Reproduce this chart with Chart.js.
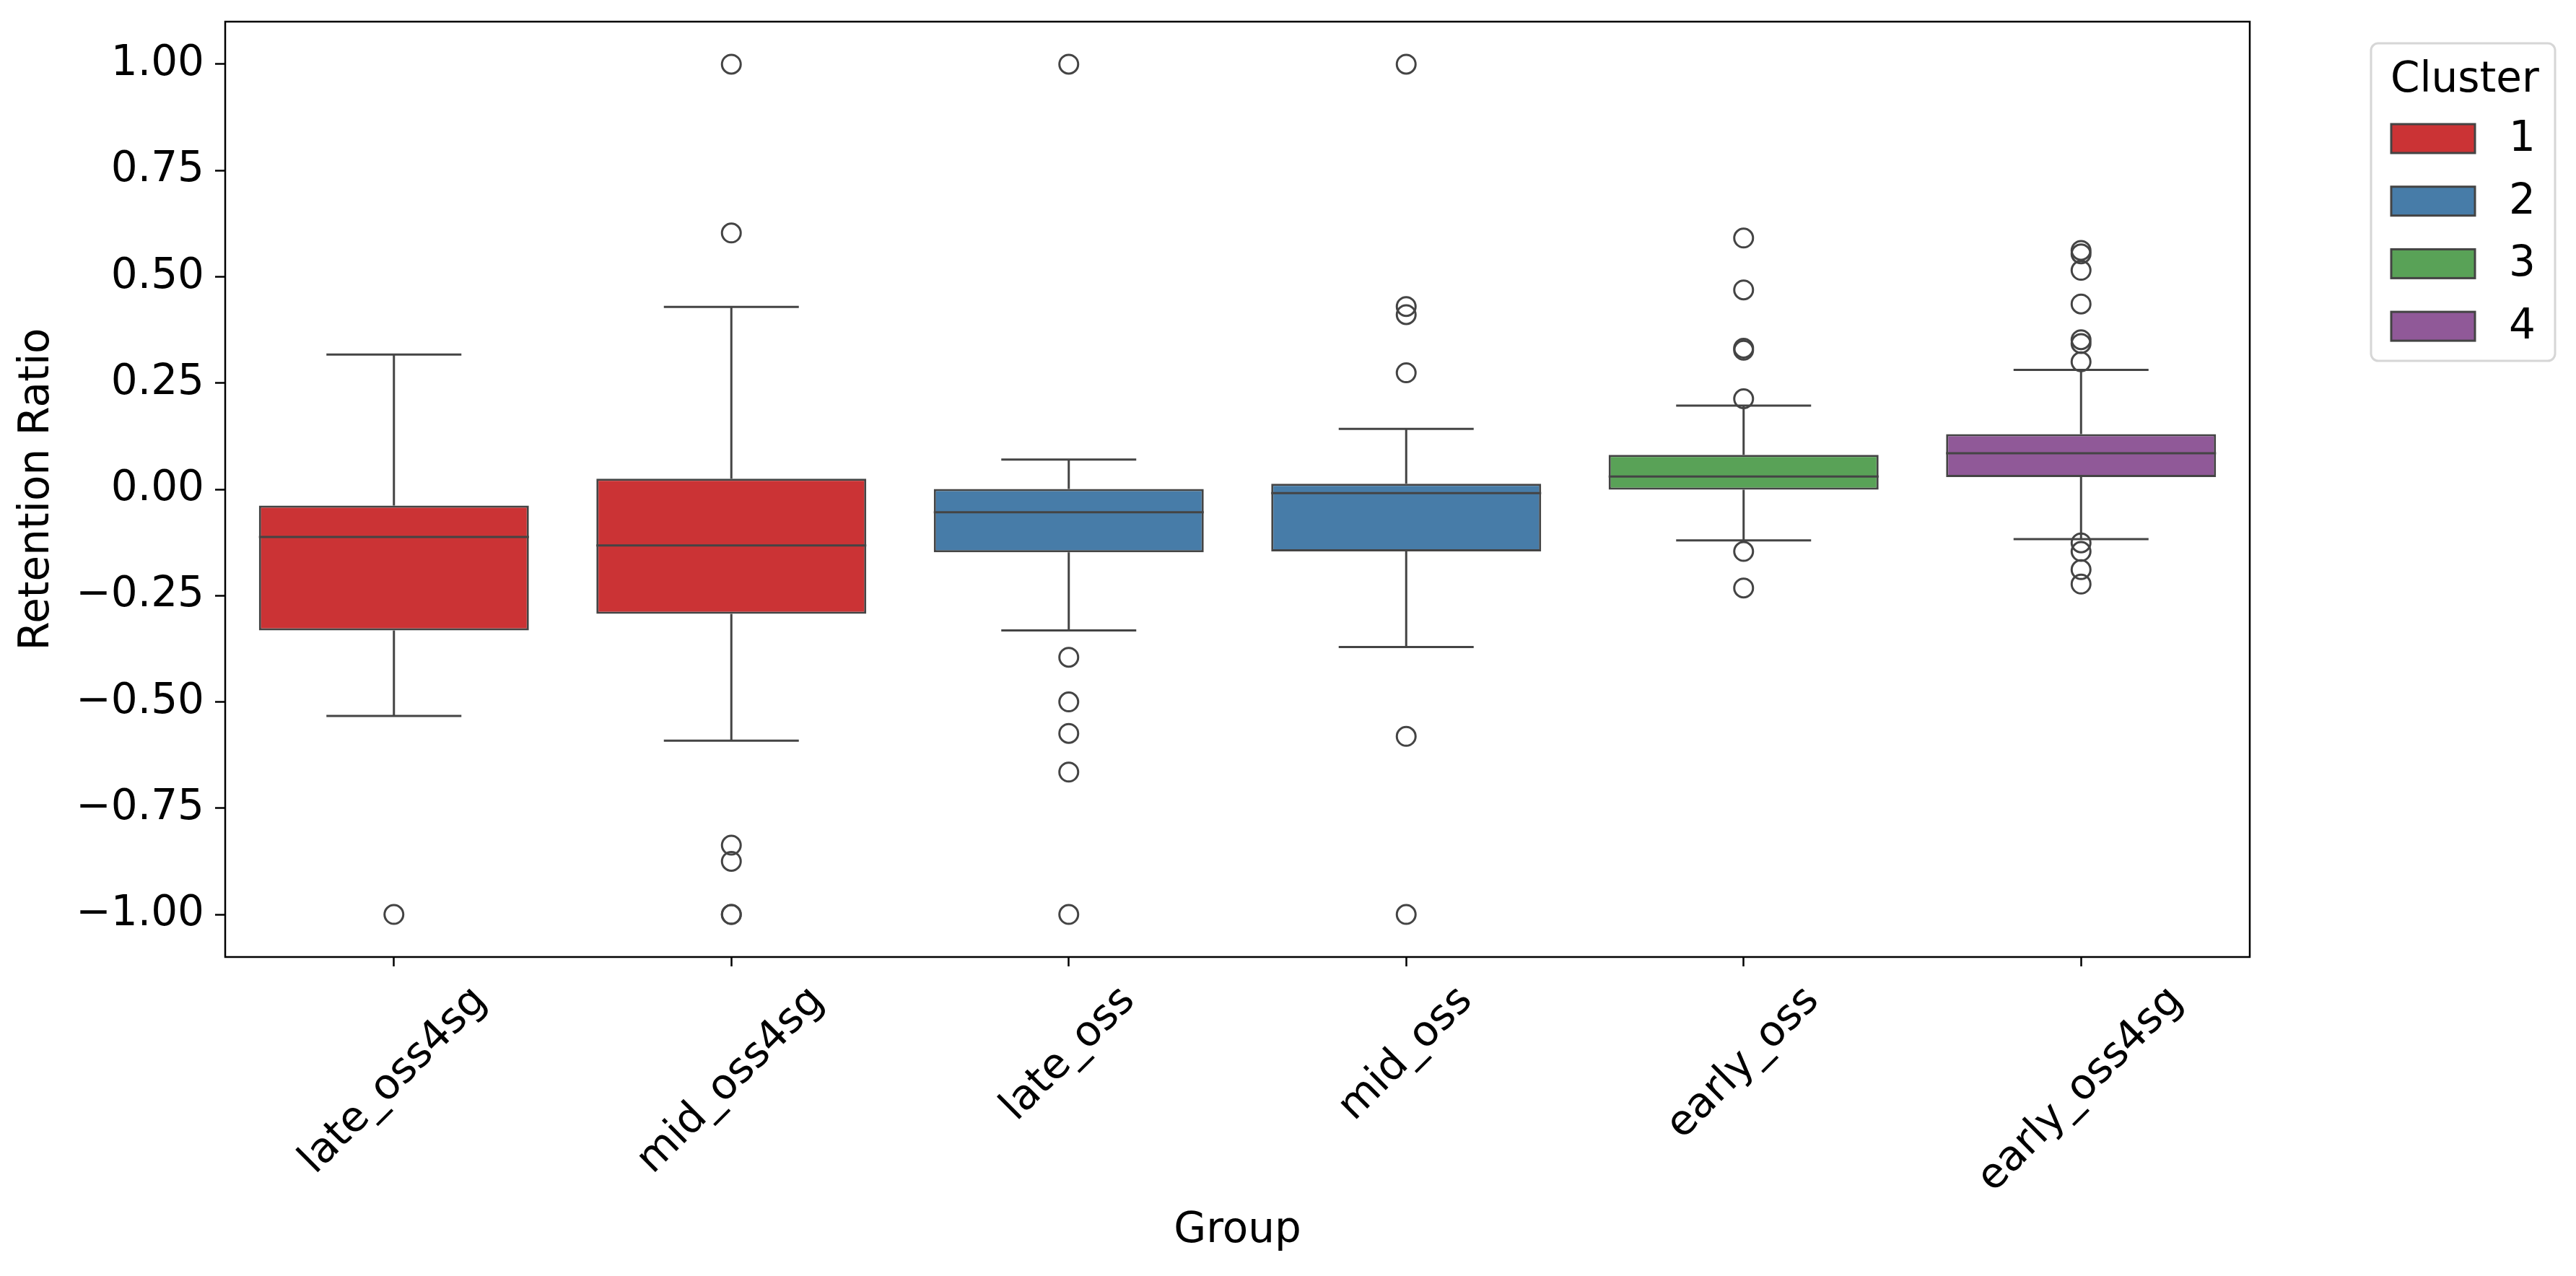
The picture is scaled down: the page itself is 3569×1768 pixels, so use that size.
<!DOCTYPE html>
<html>
<head>
<meta charset="utf-8">
<script src="https://cdn.jsdelivr.net/npm/chart.js@4"></script>
<style>
  html, body { margin: 0; padding: 0; background: #fff; }
  #wrap { width: 3569px; height: 1768px; }
</style>
</head>
<body>
<div id="wrap"><canvas id="box-chart" width="3569" height="1768"></canvas></div>
<script>
/* ---- DATA ---- */
const groups     = ['late_oss4sg', 'mid_oss4sg', 'late_oss', 'mid_oss', 'early_oss', 'early_oss4sg'];
const clusterOf  = [1, 1, 2, 2, 3, 4];
const whiskerLo  = [-0.533, -0.591, -0.332, -0.371, -0.120, -0.117];
const q1         = [-0.332, -0.293, -0.148, -0.146, -0.001, 0.029];
const median     = [-0.112, -0.132, -0.054, -0.009, 0.030, 0.085];
const q3         = [-0.038, 0.025, 0.001, 0.013, 0.081, 0.130];
const whiskerHi  = [0.317, 0.429, 0.070, 0.142, 0.197, 0.281];
const outliers   = [
  [-1.0],
  [1.0, 0.603, -0.837, -0.875, -1.0, -1.0],
  [1.0, -0.395, -0.500, -0.574, -0.665, -1.0],
  [1.0, 0.430, 0.411, 0.274, -0.581, -1.0],
  [0.591, 0.469, 0.332, 0.327, 0.213, -0.146, -0.232],
  [0.562, 0.554, 0.515, 0.436, 0.352, 0.343, 0.300, -0.126, -0.146, -0.189, -0.223]
];
const clusters   = ['1', '2', '3', '4'];
const yTicks     = [-1.0, -0.75, -0.5, -0.25, 0.0, 0.25, 0.5, 0.75, 1.0];

/* ---- STYLE ---- */
const clusterColors = ['#cb3335', '#477ca8', '#59a257', '#905998'];
const LINE  = '#444444';
const FONT  = "'DejaVu Sans', 'Liberation Sans', sans-serif";
const FSIZE = 58;

/* ============================================================
   WHISKERS + MEDIANS — dibujados con las escalas del chart
   ============================================================ */
const boxPartsPlugin = {
  id: 'boxParts',
  beforeDatasetsDraw(chart) {
    const { ctx, scales: { y } } = chart;
    const meta = chart.getDatasetMeta(0);
    ctx.save();
    ctx.strokeStyle = LINE;
    ctx.lineWidth = 3;
    meta.data.forEach((bar, i) => {
      const cx = bar.x;
      const half = bar.width / 4;
      const yLo = y.getPixelForValue(whiskerLo[i]);
      const yHi = y.getPixelForValue(whiskerHi[i]);
      ctx.beginPath();
      ctx.moveTo(cx, y.getPixelForValue(q1[i])); ctx.lineTo(cx, yLo);
      ctx.moveTo(cx, y.getPixelForValue(q3[i])); ctx.lineTo(cx, yHi);
      ctx.moveTo(cx - half, yLo); ctx.lineTo(cx + half, yLo);
      ctx.moveTo(cx - half, yHi); ctx.lineTo(cx + half, yHi);
      ctx.stroke();
    });
    ctx.restore();
  },
  afterDatasetsDraw(chart) {
    const { ctx, scales: { y } } = chart;
    const meta = chart.getDatasetMeta(0);
    ctx.save();
    ctx.strokeStyle = LINE;
    ctx.lineWidth = 3;
    meta.data.forEach((bar, i) => {
      const ym = y.getPixelForValue(median[i]);
      ctx.beginPath();
      ctx.moveTo(bar.x - bar.width / 2, ym);
      ctx.lineTo(bar.x + bar.width / 2, ym);
      ctx.stroke();
    });
    ctx.restore();
  }
};

/* ============================================================
   FRAME, X LABELS (rotadas y centradas), LEYENDA
   ============================================================ */
const decorPlugin = {
  id: 'decor',
  afterDraw(chart) {
    const { ctx, chartArea: a, scales: { x } } = chart;
    ctx.save();

    // marco completo
    ctx.strokeStyle = '#000';
    ctx.lineWidth = 2.5;
    ctx.strokeRect(a.left, a.top, a.right - a.left, a.bottom - a.top);

    // etiquetas del eje x, centradas en el tick como matplotlib
    ctx.font = `${FSIZE}px ${FONT}`;
    ctx.fillStyle = '#000';
    ctx.textAlign = 'center';
    ctx.textBaseline = 'middle';
    const top = a.bottom + 13 + 15;
    x.ticks.forEach((t, i) => {
      const label = groups[i];
      const w = ctx.measureText(label).width;
      const h = FSIZE * 1.16;
      const cx = x.getPixelForTick(i);
      const cy = top + (w + h) * Math.SQRT1_2 / 2;
      ctx.save();
      ctx.translate(cx, cy);
      ctx.rotate(-Math.PI / 4);
      ctx.fillText(label, 0, 0);
      ctx.restore();
    });

    // leyenda
    const lx = 3285, ly = 60, lw = 255, lh = 440, r = 10;
    ctx.beginPath();
    ctx.roundRect(lx, ly, lw, lh, r);
    ctx.fillStyle = 'rgba(255,255,255,0.8)';
    ctx.fill();
    ctx.strokeStyle = '#d6d6d6';
    ctx.lineWidth = 3;
    ctx.stroke();

    ctx.fillStyle = '#000';
    ctx.textAlign = 'left';
    ctx.textBaseline = 'alphabetic';
    ctx.fillText('Cluster', 3312, 127);

    clusters.forEach((c, i) => {
      const cy = 192 + i * 86.7;
      ctx.fillStyle = clusterColors[i];
      ctx.fillRect(3313, cy - 20, 116, 40);
      ctx.strokeStyle = LINE;
      ctx.lineWidth = 3;
      ctx.strokeRect(3313, cy - 20, 116, 40);
      ctx.fillStyle = '#000';
      ctx.textBaseline = 'middle';
      ctx.fillText(c, 3476, cy + 2);
    });
    ctx.restore();
  }
};

/* ---- MAIN ---- */
const outlierPoints = [];
outliers.forEach((list, i) => list.forEach(v => outlierPoints.push({ x: groups[i], y: v })));

new Chart(document.getElementById('box-chart'), {
  type: 'bar',
  data: {
    labels: groups,
    datasets: [
      {
        label: 'box',
        data: groups.map((g, i) => [q1[i], q3[i]]),
        backgroundColor: clusterOf.map(c => clusterColors[c - 1]),
        borderColor: LINE,
        borderWidth: 3,
        borderSkipped: false,
        barPercentage: 0.8,
        categoryPercentage: 1.0
      },
      {
        type: 'scatter',
        label: 'outliers',
        data: outlierPoints,
        pointRadius: 13,
        pointBorderWidth: 3,
        pointBackgroundColor: 'rgba(0,0,0,0)',
        pointBorderColor: LINE,
        showLine: false
      }
    ]
  },
  options: {
    responsive: false,
    devicePixelRatio: 1,
    animation: false,
    layout: { padding: { left: 0, top: 30, right: 452, bottom: 0 } },
    plugins: {
      legend: { display: false },
      tooltip: { enabled: false }
    },
    scales: {
      x: {
        type: 'category',
        offset: true,
        grid: { offset: false, drawOnChartArea: false, drawTicks: true, tickLength: 13, tickColor: '#000', tickWidth: 2.5 },
        border: { display: false },
        ticks: { color: 'rgba(0,0,0,0)', autoSkip: false, maxRotation: 0, font: { family: FONT, size: FSIZE } },
        title: {
          display: true, text: 'Group', color: '#000',
          font: { family: FONT, size: FSIZE },
          padding: { top: 0, bottom: 27 }
        },
        afterFit: s => { s.height = 442; s.paddingLeft = 0; s.paddingRight = 0; }
      },
      y: {
        min: -1.1,
        max: 1.1,
        afterBuildTicks: s => { s.ticks = yTicks.map(v => ({ value: v })); },
        grid: { drawOnChartArea: false, drawTicks: true, tickLength: 14, tickColor: '#000', tickWidth: 2.5 },
        border: { display: false },
        ticks: {
          color: '#000',
          padding: 15,
          font: { family: FONT, size: FSIZE },
          callback: v => (v < 0 ? '\u2212' : '') + Math.abs(v).toFixed(2)
        },
        title: {
          display: true, text: 'Retention Ratio', color: '#000',
          font: { family: FONT, size: FSIZE },
          padding: { top: 17, bottom: 0 }
        },
        afterFit: s => { s.width = 312; s.paddingTop = 0; s.paddingBottom = 0; }
      }
    }
  },
  plugins: [boxPartsPlugin, decorPlugin]
});
</script>
</body>
</html>
